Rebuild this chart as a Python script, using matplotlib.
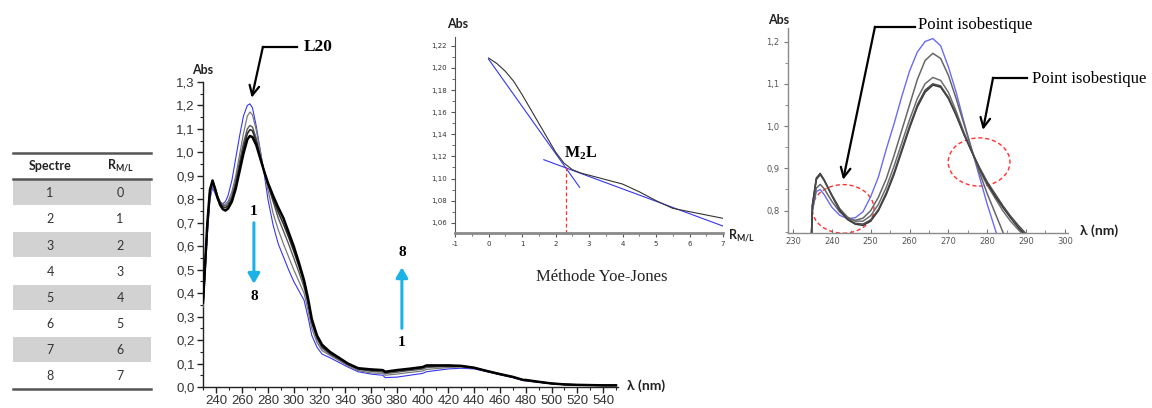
import matplotlib
matplotlib.use("Agg")
import matplotlib.pyplot as plt
from matplotlib.patches import Ellipse, Rectangle
from matplotlib.ticker import MultipleLocator

# tableau des spectres
spectre = [1, 2, 3, 4, 5, 6, 7, 8]
r_ml = [0, 1, 2, 3, 4, 5, 6, 7]

# spectres UV-Vis (panneau principal)
wl = [229.6, 231, 233, 235, 237, 239, 241, 243, 245, 247, 249, 252, 255, 258, 261, 264,
      266, 268, 271, 274, 277, 280, 284, 288, 292, 296, 300, 304, 308, 311, 314, 318,
      322, 328, 335, 342, 350, 360, 369, 371, 380, 390, 400, 403, 410, 420, 430, 440,
      450, 460, 470, 478, 480, 490, 500, 510, 520, 530, 540, 550]
abs_s1 = [0.33, 0.45, 0.65, 0.80, 0.85, 0.825, 0.798, 0.784, 0.782, 0.79, 0.815, 0.88, 0.975,
          1.07, 1.155, 1.20, 1.207, 1.19, 1.11, 1.01, 0.912, 0.80, 0.69, 0.61, 0.555, 0.50,
          0.45, 0.41, 0.37, 0.30, 0.22, 0.17, 0.14, 0.125, 0.105, 0.085, 0.065, 0.055,
          0.05, 0.04, 0.042, 0.05, 0.058, 0.065, 0.07, 0.077, 0.08, 0.077, 0.065, 0.052,
          0.04, 0.028, 0.025, 0.02, 0.014, 0.01, 0.008, 0.007, 0.006, 0.006]
abs_s2 = [0.34, 0.46, 0.66, 0.81, 0.86, 0.835, 0.81, 0.79, 0.778, 0.78, 0.79, 0.832, 0.90,
          0.99, 1.08, 1.155, 1.172, 1.16, 1.093, 1.005, 0.918, 0.84, 0.74, 0.67, 0.61, 0.555,
          0.50, 0.45, 0.40, 0.33, 0.25, 0.19, 0.155, 0.135, 0.113, 0.09, 0.07, 0.06,
          0.058, 0.05, 0.055, 0.062, 0.068, 0.075, 0.078, 0.083, 0.085, 0.08, 0.066, 0.053,
          0.041, 0.029, 0.027, 0.021, 0.014, 0.01, 0.008, 0.007, 0.006, 0.006]
abs_s4 = [0.35, 0.48, 0.68, 0.83, 0.875, 0.845, 0.812, 0.788, 0.775, 0.772, 0.782, 0.815, 0.88,
          0.96, 1.04, 1.10, 1.115, 1.108, 1.058, 0.985, 0.918, 0.86, 0.79, 0.72, 0.665, 0.61,
          0.55, 0.49, 0.425, 0.355, 0.27, 0.205, 0.165, 0.14, 0.118, 0.095, 0.075, 0.067,
          0.064, 0.057, 0.063, 0.07, 0.076, 0.083, 0.085, 0.088, 0.088, 0.081, 0.067, 0.054,
          0.042, 0.03, 0.028, 0.021, 0.015, 0.011, 0.009, 0.008, 0.007, 0.007]
abs_s6 = [0.355, 0.49, 0.69, 0.835, 0.88, 0.845, 0.808, 0.782, 0.768, 0.764, 0.772, 0.80, 0.86,
          0.94, 1.02, 1.08, 1.097, 1.092, 1.045, 0.98, 0.92, 0.865, 0.80, 0.745, 0.695, 0.64,
          0.58, 0.515, 0.445, 0.37, 0.28, 0.215, 0.172, 0.145, 0.122, 0.098, 0.078, 0.072,
          0.07, 0.062, 0.069, 0.075, 0.082, 0.089, 0.09, 0.091, 0.089, 0.082, 0.068, 0.055,
          0.043, 0.03, 0.029, 0.022, 0.015, 0.011, 0.009, 0.008, 0.007, 0.007]
abs_s8 = [0.36, 0.50, 0.70, 0.84, 0.88, 0.845, 0.805, 0.775, 0.758, 0.752, 0.76, 0.79, 0.845,
          0.92, 0.995, 1.055, 1.07, 1.065, 1.03, 0.975, 0.92, 0.87, 0.815, 0.765, 0.72, 0.66,
          0.60, 0.53, 0.455, 0.38, 0.29, 0.22, 0.18, 0.15, 0.125, 0.10, 0.08, 0.075,
          0.072, 0.065, 0.072, 0.078, 0.085, 0.092, 0.092, 0.092, 0.09, 0.082, 0.068, 0.055,
          0.043, 0.03, 0.03, 0.022, 0.015, 0.011, 0.009, 0.008, 0.007, 0.007]

# méthode Yoe-Jones : Abs au maximum en fonction de R(M/L)
yj_r = [0, 0.25, 0.5, 0.75, 1, 1.25, 1.5, 1.75, 2, 2.25, 2.5, 2.75, 3, 3.5, 4, 4.5, 5,
        5.5, 6, 6.5, 7]
yj_abs = [1.209, 1.204, 1.197, 1.188, 1.176, 1.163, 1.150, 1.137, 1.124, 1.114, 1.108,
          1.105, 1.103, 1.099, 1.095, 1.088, 1.080, 1.073, 1.070, 1.067, 1.064]
fit1_r = [0, 2.72]
fit1_abs = [1.208, 1.092]
fit2_r = [1.65, 7]
fit2_abs = [1.117, 1.057]
m2l_r = 2.3
m2l_abs = 1.110

# zoom 230-300 nm
zwl = [234.6, 235, 236, 237, 238, 240, 242, 244, 246, 248, 250, 252, 254, 256, 258, 260,
       262, 264, 266, 268, 270, 272, 274, 276, 278, 280, 282, 284, 286, 288, 290, 292]
z_blue = [0.70, 0.80, 0.845, 0.85, 0.838, 0.808, 0.789, 0.781, 0.783, 0.797, 0.833, 0.88,
          0.945, 1.005, 1.07, 1.13, 1.175, 1.20, 1.207, 1.19, 1.14, 1.08, 1.01, 0.945,
          0.88, 0.815, 0.757, 0.70, 0.63, 0.56, 0.49, 0.42]
z_gray1 = [0.70, 0.80, 0.853, 0.862, 0.852, 0.822, 0.797, 0.782, 0.777, 0.782, 0.80, 0.832,
           0.875, 0.93, 0.99, 1.05, 1.11, 1.155, 1.172, 1.16, 1.12, 1.065, 1.005, 0.945,
           0.89, 0.84, 0.795, 0.75, 0.70, 0.64, 0.58, 0.52]
z_gray2 = [0.70, 0.81, 0.873, 0.885, 0.872, 0.837, 0.805, 0.785, 0.775, 0.775, 0.788, 0.815,
           0.855, 0.905, 0.96, 1.015, 1.065, 1.10, 1.115, 1.108, 1.08, 1.035, 0.985, 0.94,
           0.895, 0.86, 0.83, 0.80, 0.775, 0.755, 0.735, 0.70]
z_dark1 = [0.70, 0.815, 0.877, 0.888, 0.873, 0.835, 0.801, 0.779, 0.768, 0.765, 0.775, 0.80,
           0.838, 0.885, 0.94, 0.995, 1.045, 1.08, 1.097, 1.092, 1.065, 1.025, 0.98, 0.94,
           0.90, 0.865, 0.835, 0.808, 0.783, 0.76, 0.74, 0.70]
z_dark2 = [0.70, 0.812, 0.874, 0.886, 0.872, 0.836, 0.803, 0.781, 0.77, 0.768, 0.778, 0.803,
           0.842, 0.89, 0.945, 1.0, 1.05, 1.085, 1.10, 1.095, 1.068, 1.028, 0.982, 0.94,
           0.902, 0.868, 0.84, 0.812, 0.787, 0.765, 0.745, 0.70]

SANS = ["Lato", "DejaVu Sans"]
SERIF = ["Liberation Serif", "DejaVu Serif"]
CYAN = "#1cb2e6"
ARROW = dict(arrowstyle="->,head_width=0.35,head_length=0.7", lw=1.6, color="black",
             shrinkA=0, shrinkB=0)
CYAN_ARROW = dict(arrowstyle="-|>,head_width=0.35,head_length=0.6", lw=2.2, color=CYAN,
                  shrinkA=0, shrinkB=0)


def comma(v, nd):
    return f"{v:.{nd}f}".replace(".", ",")


fig = plt.figure(figsize=(11.52, 4.08), dpi=100)
fig.patch.set_facecolor("white")

# ---------- tableau ----------
axt = fig.add_axes([0, 0, 1, 1], zorder=-1)
axt.set_xlim(0, 1152)
axt.set_ylim(408, 0)
axt.axis("off")
row_h = 26.2
y0 = 180
axt.plot([13, 151], [153, 153], color="#555555", lw=1.8)
axt.plot([13, 151], [179, 179], color="#555555", lw=1.8)
axt.text(50, 166, "Spectre", ha="center", va="center", fontsize=9, fontweight="bold",
         family=SANS, color="#222222")
axt.text(120, 166, r"R$_{\mathregular{M/L}}$", ha="center", va="center", fontsize=9,
         fontweight="bold", family=SANS, color="#222222")
for i, (s, r) in enumerate(zip(spectre, r_ml)):
    top = y0 + i * row_h
    if i % 2 == 0:
        axt.add_patch(Rectangle((13, top), 138, row_h - 1.5, color="#d2d2d2", lw=0))
    axt.text(50, top + row_h / 2, str(s), ha="center", va="center", fontsize=9,
             family=SANS, color="#333333")
    axt.text(120, top + row_h / 2, str(r), ha="center", va="center", fontsize=9,
             family=SANS, color="#333333")
axt.plot([13, 151], [389, 389], color="#555555", lw=1.8)

# ---------- panneau principal ----------
ax1 = fig.add_axes([0.1762, 0.0515, 0.3602, 0.7475])
ax1.plot(wl, abs_s1, color="#3636f0", lw=0.8, zorder=2)
ax1.plot(wl, abs_s2, color="#7a7a7a", lw=0.9, zorder=3)
ax1.plot(wl, abs_s4, color="#5a5a5a", lw=1.0, zorder=3)
ax1.plot(wl, abs_s6, color="#2e2e2e", lw=1.2, zorder=4)
ax1.plot(wl, abs_s8, color="#000000", lw=1.8, zorder=5)
ax1.set_xlim(229.6, 551.5)
ax1.set_ylim(0, 1.3)
for sp in ["top", "right"]:
    ax1.spines[sp].set_visible(False)
for sp in ["left", "bottom"]:
    ax1.spines[sp].set_color("#222222")
    ax1.spines[sp].set_linewidth(1.0)
xt = list(range(240, 541, 20))
ax1.set_xticks(xt)
ax1.set_xticklabels([str(v) for v in xt])
yt = [i / 10 for i in range(14)]
ax1.set_yticks(yt)
ax1.set_yticklabels([comma(v, 1) for v in yt])
ax1.xaxis.set_minor_locator(MultipleLocator(10))
ax1.yaxis.set_minor_locator(MultipleLocator(0.05))
ax1.tick_params(which="major", length=4, width=1, color="#222222", labelsize=9.5,
                labelcolor="#333333", pad=2)
ax1.tick_params(which="minor", length=2.5, width=0.8, color="#222222")
for lab in ax1.get_xticklabels() + ax1.get_yticklabels():
    lab.set_family("Liberation Sans")
ax1.text(-0.027, 1.04, "Abs", transform=ax1.transAxes, fontsize=9, fontweight="bold",
         family=SANS, color="#222222", va="center")
ax1.text(1.022, 0.003, "λ (nm)", transform=ax1.transAxes, fontsize=10, fontweight="bold",
         family=SANS, color="#222222", va="center")

# L20
ax1.plot([302.5, 276.1], [1.45, 1.45], color="black", lw=1.6, clip_on=False)
ax1.annotate("", xy=(267.4, 1.233), xytext=(276.1, 1.45), annotation_clip=False,
             arrowprops=ARROW)
ax1.text(307.5, 1.45, "L20", fontsize=12.5, fontweight="bold", family=SERIF, va="center")

# flèches cyan
ax1.annotate("", xy=(269.1, 0.44), xytext=(269.1, 0.70), arrowprops=CYAN_ARROW)
ax1.text(269.1, 0.75, "1", fontsize=11, fontweight="bold", family=SERIF, ha="center",
         va="center")
ax1.text(269.1, 0.385, "8", fontsize=11, fontweight="bold", family=SERIF, ha="center",
         va="center")
ax1.annotate("", xy=(383.9, 0.51), xytext=(383.9, 0.25), arrowprops=CYAN_ARROW)
ax1.text(383.9, 0.572, "8", fontsize=11, fontweight="bold", family=SERIF, ha="center",
         va="center")
ax1.text(383.9, 0.188, "1", fontsize=11, fontweight="bold", family=SERIF, ha="center",
         va="center")

# ---------- Yoe-Jones ----------
ax2 = fig.add_axes([0.395, 0.4289, 0.2326, 0.4804])
ax2.plot(yj_r, yj_abs, color="#333333", lw=0.8, zorder=3)
ax2.plot(fit1_r, fit1_abs, color="#3434f2", lw=0.8, zorder=2)
ax2.plot(fit2_r, fit2_abs, color="#3434f2", lw=0.8, zorder=2)
ax2.plot([m2l_r, m2l_r], [m2l_abs, 1.0507], color="#ff3030", lw=0.9, ls=(0, (3, 2)))
ax2.set_xlim(-1, 7)
ax2.set_ylim(1.0507, 1.228)
for sp in ["top", "right"]:
    ax2.spines[sp].set_visible(False)
ax2.spines["bottom"].set_color("#8a8a8a")
ax2.spines["bottom"].set_linewidth(2.0)
ax2.spines["left"].set_color("#555555")
ax2.spines["left"].set_linewidth(0.8)
xt2 = list(range(-1, 8))
ax2.set_xticks(xt2)
ax2.set_xticklabels([str(v) for v in xt2])
yt2 = [1.06, 1.08, 1.10, 1.12, 1.14, 1.16, 1.18, 1.20, 1.22]
ax2.set_yticks(yt2)
ax2.set_yticklabels([comma(v, 2) for v in yt2])
ax2.xaxis.set_minor_locator(MultipleLocator(0.5))
ax2.yaxis.set_minor_locator(MultipleLocator(0.01))
ax2.tick_params(which="major", length=3, width=0.8, color="#555555", labelsize=5,
                labelcolor="#333333", pad=3)
ax2.tick_params(which="minor", length=2, width=0.6, color="#555555")
ax2.text(-0.03, 1.045, "Abs", transform=ax2.transAxes, fontsize=9, fontweight="bold",
         family=SANS, color="#222222")
ax2.text(1.02, -0.015, r"R$_{\mathregular{M/L}}$", transform=ax2.transAxes, fontsize=9,
         fontweight="bold", family=SANS, color="#222222", va="center")
ax2.text(2.25, 1.119, r"M$_\mathregular{2}$L", fontsize=11.5, fontweight="bold", family=SERIF)
ax2.text(0.548, -0.224, "Méthode Yoe-Jones", transform=ax2.transAxes, fontsize=12,
         family=SERIF, ha="center", va="center", color="#222222")

# ---------- zoom 230-300 ----------
ax3 = fig.add_axes([0.684, 0.4289, 0.2431, 0.5025])
ax3.plot(zwl, z_blue, color="#6b6bf0", lw=1.0)
ax3.plot(zwl, z_gray1, color="#666666", lw=1.1)
ax3.plot(zwl, z_gray2, color="#6e6e6e", lw=1.1)
ax3.plot(zwl, z_dark1, color="#333333", lw=1.1)
ax3.plot(zwl, z_dark2, color="#4a4a4a", lw=1.1)
ax3.set_xlim(228.7, 300.8)
ax3.set_ylim(0.747, 1.232)
for sp in ["top", "right"]:
    ax3.spines[sp].set_visible(False)
for sp in ["left", "bottom"]:
    ax3.spines[sp].set_color("#8a8a8a")
    ax3.spines[sp].set_linewidth(1.0)
xt3 = list(range(230, 301, 10))
ax3.set_xticks(xt3)
ax3.set_xticklabels([str(v) for v in xt3])
yt3 = [0.8, 0.9, 1.0, 1.1, 1.2]
ax3.set_yticks(yt3)
ax3.set_yticklabels([comma(v, 1) for v in yt3])
ax3.xaxis.set_minor_locator(MultipleLocator(5))
ax3.yaxis.set_minor_locator(MultipleLocator(0.05))
ax3.tick_params(axis="x", which="both", direction="in")
ax3.tick_params(which="major", length=3, width=0.8, color="#777777", labelsize=6,
                labelcolor="#555555", pad=3)
ax3.tick_params(which="minor", length=2, width=0.6, color="#777777")
ax3.text(-0.07, 1.02, "Abs", transform=ax3.transAxes, fontsize=9, fontweight="bold",
         family=SANS, color="#222222")
ax3.text(1.043, 0.01, "λ (nm)", transform=ax3.transAxes, fontsize=10, fontweight="bold",
         family=SANS, color="#222222", va="center")

ax3.add_patch(Ellipse((242.9, 0.804), 15.9, 0.115, fill=False, ec="#ff3030", lw=1.0,
                      ls=(0, (3, 2))))
ax3.add_patch(Ellipse((277.9, 0.915), 15.9, 0.114, fill=False, ec="#ff3030", lw=1.0,
                      ls=(0, (3, 2))))

ax3.plot([261.5, 251.1], [1.2348, 1.2348], color="black", lw=1.6, clip_on=False)
ax3.annotate("", xy=(242.9, 0.873), xytext=(251.1, 1.2348), annotation_clip=False,
             arrowprops=ARROW)
ax3.text(262.2, 1.2395, "Point isobestique", fontsize=12, family=SERIF, va="center")
ax3.plot([290.2, 281.5], [1.114, 1.114], color="black", lw=1.6, clip_on=False)
ax3.annotate("", xy=(278.9, 0.991), xytext=(281.5, 1.114), annotation_clip=False,
             arrowprops=ARROW)
ax3.text(291.6, 1.1117, "Point isobestique", fontsize=12, family=SERIF, va="center",
         clip_on=False)

fig.savefig("out.png", dpi=100)
